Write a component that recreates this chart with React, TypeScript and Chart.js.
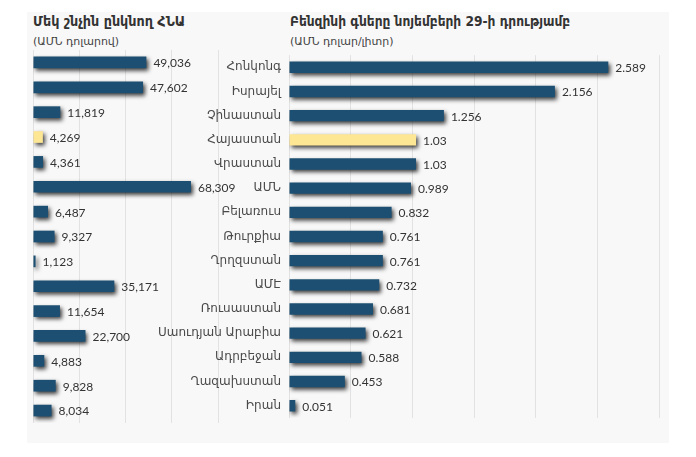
import React, { useEffect, useRef } from "react";
import { Chart, registerables } from "chart.js";

Chart.register(...registerables);

const countries = [
  "Հոնկոնգ",
  "Իսրայել",
  "Չինաստան",
  "Հայաստան",
  "Վրաստան",
  "ԱՄՆ",
  "Բելառուս",
  "Թուրքիա",
  "Ղրղզստան",
  "ԱՄԷ",
  "Ռուսաստան",
  "Սաուդյան Արաբիա",
  "Ադրբեջան",
  "Ղազախստան",
  "Իրան",
];
const gdpPerCapita = [49036, 47602, 11819, 4269, 4361, 68309, 6487, 9327, 1123, 35171, 11654, 22700, 4883, 9828, 8034];
const gasPrice = [2.589, 2.156, 1.256, 1.03, 1.03, 0.989, 0.832, 0.761, 0.761, 0.732, 0.681, 0.621, 0.588, 0.453, 0.051];
const gdpAxis = { min: 0, max: 80000, step: 20000 };
const gasAxis = { min: 0, max: 3, step: 0.5 };
const highlighted = "Հայաստան";

const leftTitle = "Մեկ շնչին ընկնող ՀՆԱ";
const leftSubtitle = "(ԱՄՆ դոլարով)";
const rightTitle = "Բենզինի գները նոյեմբերի 29-ի դրությամբ";
const rightSubtitle = "(ԱՄՆ դոլար/լիտր)";

const BLUE = "#1d4f72";
const YELLOW = "#fde694";
const ARM_FONT = "'DejaVu Sans', sans-serif";
const TITLE_FONT = "'DejaVu Sans Condensed', 'DejaVu Sans', sans-serif";
const NUM_FONT = "Lato, 'Open Sans', sans-serif";

function barColors() {
  return countries.map((c) => (c === highlighted ? YELLOW : BLUE));
}

function makePlugin(values: number[], fmt: (v: number) => string) {
  return {
    id: "shadowAndLabels",
    beforeDatasetsDraw(chart: any) {
      const ctx = chart.ctx;
      ctx.save();
      ctx.shadowColor = "rgba(0,0,0,0.75)";
      ctx.shadowBlur = 4;
      ctx.shadowOffsetX = 2;
      ctx.shadowOffsetY = 2.5;
    },
    afterDatasetsDraw(chart: any) {
      const ctx = chart.ctx;
      ctx.restore();
      const meta = chart.getDatasetMeta(0);
      ctx.save();
      ctx.font = "12px " + NUM_FONT;
      ctx.fillStyle = "#333333";
      ctx.textAlign = "left";
      ctx.textBaseline = "middle";
      meta.data.forEach((bar: any, i: number) => {
        ctx.fillText(fmt(values[i]), bar.x + 7, bar.y + 1);
      });
      ctx.restore();
    },
  };
}

function LeftChart() {
  const ref = useRef<HTMLCanvasElement>(null);
  useEffect(() => {
    const chart = new Chart(ref.current!, {
      type: "bar",
      data: {
        labels: countries,
        datasets: [
          {
            data: gdpPerCapita,
            backgroundColor: barColors(),
            borderWidth: 0,
            barPercentage: 0.47,
            categoryPercentage: 1,
          },
        ],
      },
      options: {
        indexAxis: "y",
        animation: false,
        responsive: false,
        devicePixelRatio: 1,
        layout: { padding: { left: 6, right: 71, top: 10, bottom: 10 } },
        plugins: { legend: { display: false }, tooltip: { enabled: false }, title: { display: false } },
        scales: {
          x: {
            min: gdpAxis.min,
            max: gdpAxis.max,
            ticks: { display: false, stepSize: gdpAxis.step },
            grid: { color: "#e2e2e2", drawTicks: false },
            border: { display: false },
          },
          y: { display: false },
        },
      },
      plugins: [makePlugin(gdpPerCapita, (v) => v.toLocaleString("en-US"))],
    });
    return () => chart.destroy();
  }, []);
  return (
    <canvas
      ref={ref}
      width={262}
      height={393}
      style={{ position: "absolute", left: 27, top: 40, width: 262, height: 393 }}
    />
  );
}

function RightChart() {
  const ref = useRef<HTMLCanvasElement>(null);
  useEffect(() => {
    const chart = new Chart(ref.current!, {
      type: "bar",
      data: {
        labels: countries,
        datasets: [
          {
            data: gasPrice,
            backgroundColor: barColors(),
            borderWidth: 0,
            barPercentage: 0.47,
            categoryPercentage: 1,
          },
        ],
      },
      options: {
        indexAxis: "y",
        animation: false,
        responsive: false,
        devicePixelRatio: 1,
        layout: { padding: { left: 0, right: 10, top: 10, bottom: 10 } },
        plugins: { legend: { display: false }, tooltip: { enabled: false }, title: { display: false } },
        scales: {
          x: {
            min: gasAxis.min,
            max: gasAxis.max,
            ticks: { display: false, stepSize: gasAxis.step },
            grid: { color: "#e2e2e2", drawTicks: false },
            border: { display: false },
          },
          y: {
            grid: { display: false, drawTicks: false },
            border: { display: false },
            ticks: { font: { family: ARM_FONT, size: 12 }, color: "#4a4a4a", padding: 8 },
            afterFit: (scale: any) => {
              scale.width = 139;
            },
          },
        },
      },
      plugins: [makePlugin(gasPrice, (v) => String(v))],
    });
    return () => chart.destroy();
  }, []);
  return (
    <canvas
      ref={ref}
      width={519}
      height={393}
      style={{ position: "absolute", left: 150, top: 40, width: 519, height: 393 }}
    />
  );
}

export default function App() {
  const titleStyle: React.CSSProperties = {
    position: "absolute",
    top: 13,
    fontFamily: TITLE_FONT,
    fontWeight: "bold",
    fontSize: 14.2,
    lineHeight: "17px",
    color: "#333",
    whiteSpace: "nowrap",
  };
  const subStyle: React.CSSProperties = {
    position: "absolute",
    top: 35,
    fontFamily: ARM_FONT,
    fontSize: 11,
    lineHeight: "13px",
    color: "#444",
    whiteSpace: "nowrap",
  };
  return (
    <div style={{ position: "absolute", left: 0, top: 0, width: 696, height: 457, background: "#fff", overflow: "hidden" }}>
      <div style={{ position: "absolute", left: 27, top: 12, width: 642, height: 431, background: "#f8f8f8" }} />
      <div style={{ ...titleStyle, left: 33 }}>{leftTitle}</div>
      <div style={{ ...subStyle, left: 33 }}>{leftSubtitle}</div>
      <div style={{ ...titleStyle, left: 290, fontSize: 13.6 }}>{rightTitle}</div>
      <div style={{ ...subStyle, left: 290 }}>{rightSubtitle}</div>
      <LeftChart />
      <RightChart />
    </div>
  );
}
